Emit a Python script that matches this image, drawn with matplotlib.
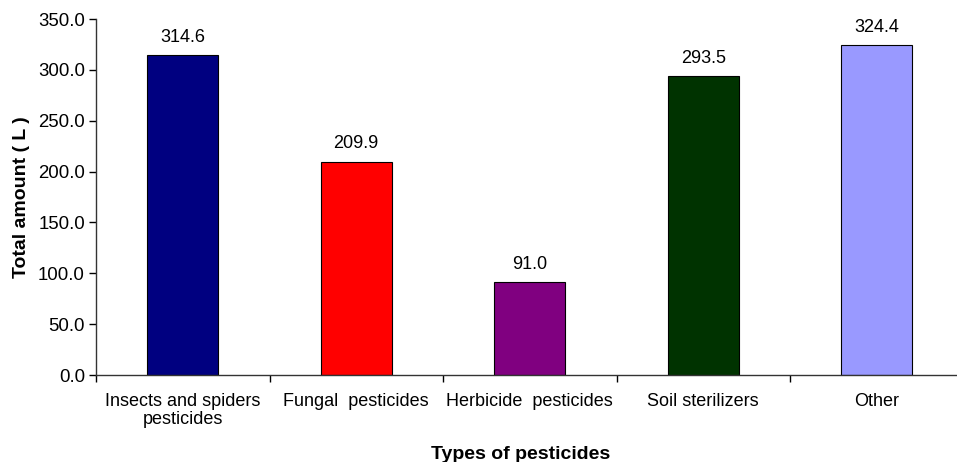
import matplotlib.pyplot as plt
import numpy as np
from matplotlib.ticker import FixedLocator

categories = ["Insects and spiders\npesticides", "Fungal  pesticides",
              "Herbicide  pesticides", "Soil sterilizers", "Other"]
values = [314.6, 209.9, 91.0, 293.5, 324.4]
colors = ["#000080", "#FF0000", "#800080", "#003300", "#9999FF"]
yticks = [0, 50, 100, 150, 200, 250, 300, 350]

plt.rcParams["font.family"] = ["Liberation Sans", "DejaVu Sans"]

fig = plt.figure(figsize=(9.57, 4.62), dpi=100)
ax = fig.add_axes([96 / 957, 87 / 462, 867.5 / 957, 356 / 462])

x = np.arange(len(values))
ax.bar(x, values, width=0.41, color=colors, edgecolor="black", linewidth=0.8)

for xi, v in zip(x, values):
    ax.text(xi, v + 9, f"{v:.1f}", ha="center", va="bottom", fontsize=13)

ax.set_xlim(-0.5, len(values) - 0.5)
ax.set_ylim(0, 350)
ax.set_yticks(yticks)
ax.set_yticklabels([f"{t:.1f}" for t in yticks], fontsize=13.4)
ax.set_xticks(x)
ax.set_xticklabels(categories, fontsize=13, linespacing=1.05)
ax.xaxis.set_minor_locator(FixedLocator(np.arange(len(values) + 1) - 0.5))
ax.tick_params(axis="x", which="major", length=0, pad=13)
ax.tick_params(axis="x", which="minor", length=5, width=1, direction="out")
ax.tick_params(axis="y", length=5, width=1, direction="out", pad=3)

for s in ["top", "right"]:
    ax.spines[s].set_visible(False)
for s in ["left", "bottom"]:
    ax.spines[s].set_linewidth(1)
    ax.spines[s].set_color("#333333")

ax.set_ylabel("Total amount ( L )", fontsize=14, fontweight="bold", labelpad=6)
ax.set_xlabel("Types of pesticides", fontsize=14, fontweight="bold", labelpad=12)
# label sits a bit left of the axis centre in the original
ax.xaxis.set_label_coords((521 - 96) / 867.5, -0.2)

fig.savefig("out.png", dpi=100)
